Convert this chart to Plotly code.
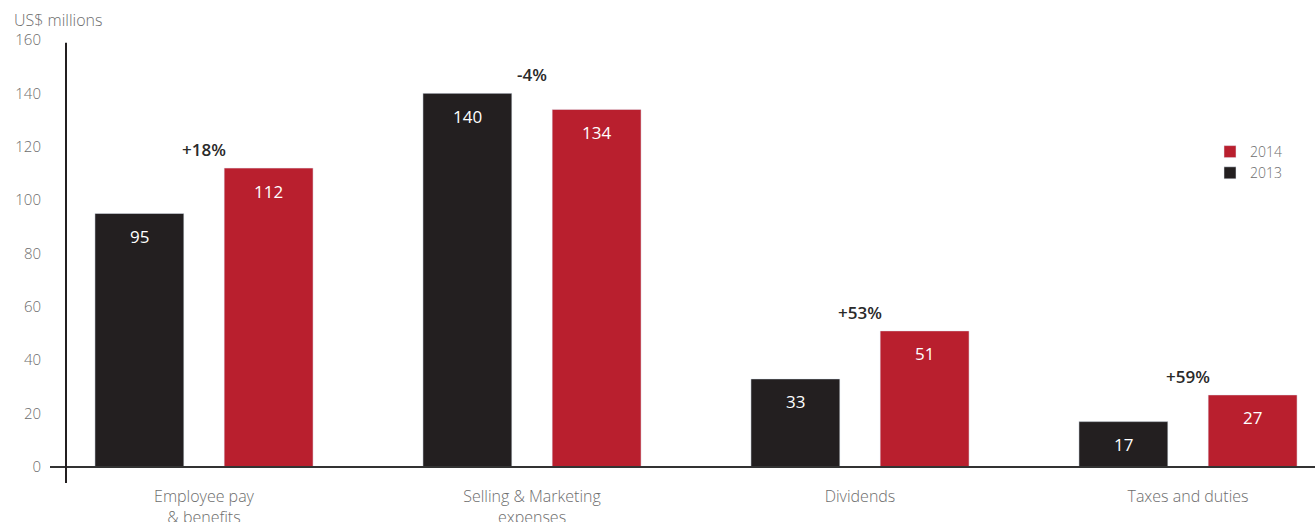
import plotly.graph_objects as go

# Expenditure by category, US$ millions
categories = ["Employee pay<br>& benefits", "Selling & Marketing<br>expenses", "Dividends", "Taxes and duties"]
values_2013 = [95, 140, 33, 17]
values_2014 = [112, 134, 51, 27]
change_labels = ["+18%", "-4%", "+53%", "+59%"]
y_ticks = [0, 20, 40, 60, 80, 100, 120, 140, 160]

BLACK = "#231f20"
RED = "#b91f2e"
GREY = "#6d6d6d"
FONT = "Open Sans"

W, H = 1315, 522
ML, MR, MT, MB = 50, 0, 40, 39
PW, PH = W - ML - MR, H - MT - MB

x_pos = list(range(len(categories)))
bar_w = 0.271
half_off = 0.197

fig = go.Figure()
fig.add_trace(go.Bar(
    name="2013", x=x_pos, y=values_2013, marker_color=BLACK,
    width=bar_w, offset=-half_off - bar_w / 2, hoverinfo="skip",
))
fig.add_trace(go.Bar(
    name="2014", x=x_pos, y=values_2014, marker_color=RED,
    width=bar_w, offset=half_off - bar_w / 2, hoverinfo="skip",
))

annotations = []
# value labels inside the top of each bar
for i, (a, b) in enumerate(zip(values_2013, values_2014)):
    for xv, v in ((i - half_off, a), (i + half_off, b)):
        annotations.append(dict(
            x=xv, y=v, xref="x", yref="y", text=str(v), showarrow=False,
            yanchor="middle", yshift=-23,
            font=dict(family=FONT, size=17, color="white"),
        ))
    # year-on-year change above each pair
    annotations.append(dict(
        x=i, y=max(a, b), xref="x", yref="y", text=change_labels[i], showarrow=False,
        yanchor="bottom", yshift=5,
        font=dict(family=FONT, size=17, color="#2a2a2a", weight=600),
    ))

# units label above the value axis
annotations.append(dict(
    x=(12 - ML) / PW, y=(H - MB - 20) / PH, xref="paper", yref="paper",
    text="US$ millions", showarrow=False, xanchor="left", yanchor="middle",
    font=dict(family=FONT, size=16, color=GREY, weight=300),
))

y_lo, y_hi = -6.0, 160
axis_x = (66 - ML) / PW
shapes = [
    # baseline at zero
    dict(type="line", xref="paper", yref="y", x0=0, x1=1, y0=0, y1=0,
         line=dict(color="#333333", width=2)),
    # vertical value axis
    dict(type="line", xref="paper", yref="y", x0=axis_x, x1=axis_x, y0=y_lo, y1=159,
         line=dict(color=BLACK, width=2)),
]

fig.update_layout(
    width=W, height=H,
    margin=dict(l=ML, r=MR, t=MT, b=MB),
    paper_bgcolor="white", plot_bgcolor="white",
    barmode="overlay",
    font=dict(family=FONT, color=GREY),
    showlegend=True,
    legend=dict(
        x=(1210 - ML) / PW, y=(H - MB - 136) / PH, xanchor="left", yanchor="top",
        traceorder="reversed", font=dict(family=FONT, size=14, color=GREY, weight=300),
        bgcolor="rgba(0,0,0,0)", itemwidth=30, tracegroupgap=0,
    ),
    xaxis=dict(
        range=[(ML - 204) / 328, (W - 204) / 328],
        tickmode="array", tickvals=x_pos, ticktext=categories,
        showgrid=False, zeroline=False, showline=False, ticks="", automargin=False,
        tickfont=dict(family=FONT, size=16, color=GREY, weight=300), ticklabelstandoff=2,
    ),
    yaxis=dict(
        range=[y_lo, y_hi], tickmode="array", tickvals=y_ticks,
        showgrid=False, zeroline=False, showline=False, ticks="", automargin=False,
        tickfont=dict(family=FONT, size=15, color=GREY, weight=300), ticklabelstandoff=8,
    ),
    annotations=annotations,
    shapes=shapes,
)

fig.write_html("out.html")
